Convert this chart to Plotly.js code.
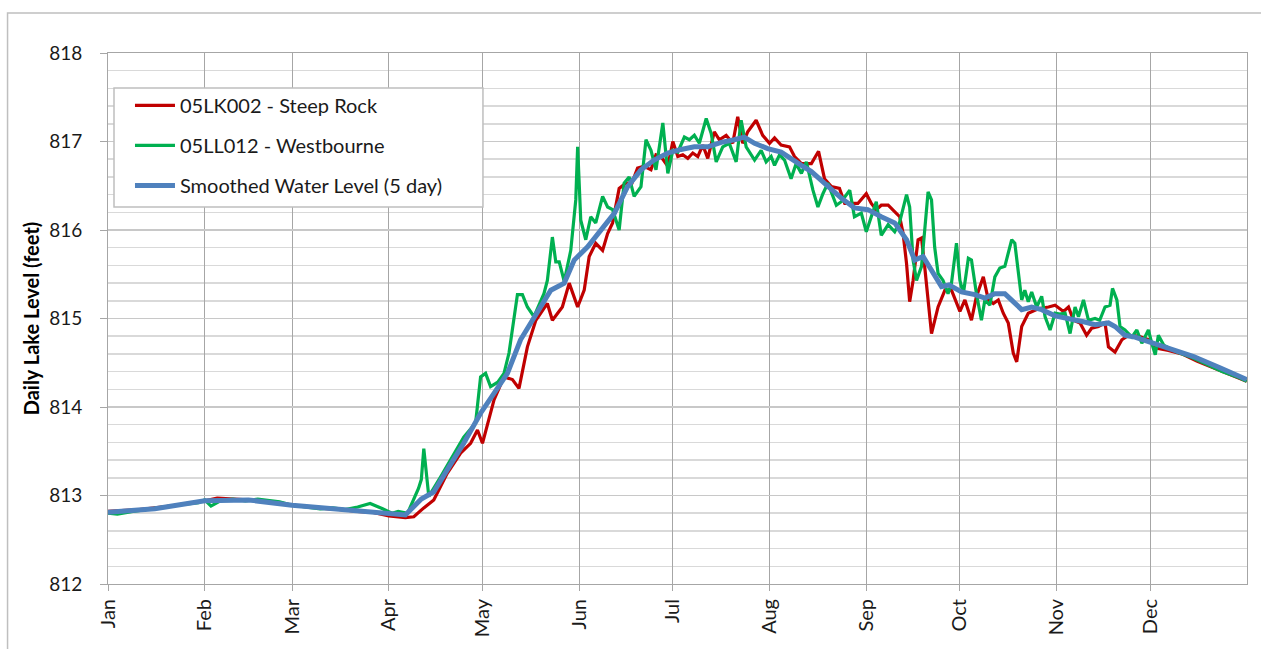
<!DOCTYPE html>
<html>
<head>
<meta charset="utf-8">
<script src="https://cdn.plot.ly/plotly-3.0.1.min.js"></script>
<style>html,body{margin:0;padding:0;background:#fff;}#chart{width:1261px;height:649px;}</style>
</head>
<body>
<div id="chart"></div>
<script>
// Day-of-year (0 = Jan 1) and level in feet
const steepRockDays = [0,5,10,15,20,25,31,35,40,45,50,55,59,65,70,75,80,85,90,95.3,98,101.2,104.4,108.7,113,116.2,118.4,120,123.7,126.9,129.6,131.7,134.4,137.1,140.8,142.4,145.6,147.8,150.5,152.6,154.2,156.3,158.5,160.1,161.7,163.8,166,167.9,169.7,171.8,174,175.6,177.2,179.4,181,182.6,184.2,185.8,187.4,189,190.6,192.2,194.3,195.9,198.1,200.2,201.8,203.4,205,207.7,209.8,212,213.6,215.7,218.4,220,222.2,225.4,227.7,229.6,231.8,234.4,236.1,238.2,240.3,243,244.6,246.2,247.8,250,252.1,253.7,254.8,255.9,256.9,258,259.6,260.7,261.7,262.8,263.9,266,268.2,270.3,273,274.6,276.7,278.3,280.5,282.1,283.7,285.3,286.9,288.5,290.1,291.2,292.8,294.9,298.1,301.4,303.5,306.2,307.8,309.4,311.5,313.6,315.2,317.4,319.5,320.6,322.7,324.9,327,330.2,333.4,336.6,339.8,344.1,348.9,353.8,358.6,364.9];
const steepRockLevels = [812.82,812.83,812.84,812.86,812.88,812.91,812.94,812.97,812.96,812.95,812.94,812.92,812.89,812.87,812.85,812.84,812.82,812.81,812.77,812.75,812.76,812.86,812.95,813.25,813.48,813.59,813.74,813.59,814.08,814.34,814.31,814.21,814.68,814.98,815.17,814.98,815.13,815.40,815.13,815.32,815.70,815.85,815.77,815.96,816.08,816.47,816.53,816.53,816.70,816.72,816.68,816.85,816.83,816.72,817.00,816.83,816.85,816.81,816.87,816.83,816.96,816.81,817.11,817.02,817.07,816.98,817.28,816.98,817.11,817.24,817.07,816.98,817.04,816.96,816.94,816.83,816.75,816.75,816.89,816.58,816.49,816.47,816.30,816.30,816.30,816.41,816.30,816.23,816.28,816.28,816.21,816.15,815.96,815.62,815.19,815.43,815.89,815.91,815.59,815.17,814.83,815.13,815.32,815.32,815.08,815.21,814.98,815.25,815.47,815.21,815.17,815.21,815.06,814.95,814.61,814.51,814.91,815.06,815.11,815.13,815.15,815.08,815.13,814.98,814.95,814.81,814.89,814.91,814.95,814.68,814.62,814.76,814.81,814.80,814.76,814.66,814.64,814.60,814.52,814.45,814.38,814.29];

const westbourneDays = [0,3,8,14,19,24,29,31,33,36,40,44,48,51,55,59,64,68,72,76,80,84,88,91,93,96,99.5,100.4,101.2,102.8,106.6,110.9,114,117.8,119.4,121,122.6,124.9,126.9,128.5,131.2,132.8,134.4,136.5,139.7,140.8,142.4,143.5,144.6,146.2,148.3,149.9,150.5,151.5,153.1,154.7,156.3,158.5,160.1,161.7,163.8,165.4,167,168.6,170.8,172.4,174,175.6,177.8,179.4,181,182.6,184.7,186.3,187.9,189.5,191.7,193.3,194.9,197,199.1,201.3,202.9,204.5,207.2,209.3,210.9,212.5,213.6,215.2,216.8,218.9,220.5,222.2,223.8,225.9,227.5,229.1,230.7,233.4,235,237.7,239.2,241.4,243,244.6,246.2,247.8,250,252.1,253.7,255.9,256.9,258,259.1,260.7,262.8,263.9,264.9,266,267.6,269.2,270.3,271.9,273,274.1,275.7,276.7,278.3,279.9,281,282.6,284.2,285.8,287.4,289.6,290.6,292.8,293.8,294.9,296,297.6,299.2,300.3,301.9,303.5,305,306.7,308.3,309.9,311,312.6,314.2,316.3,317.8,319.5,321.1,321.9,323.3,324.3,325.9,328.1,329.7,331.3,333.4,334.5,335.6,336.6,338.3,342.5,347.3,352.2,357,361.8,364.9];
const westbourneLevels = [812.80,812.79,812.82,812.85,812.88,812.90,812.92,812.95,812.88,812.94,812.96,812.94,812.96,812.95,812.93,812.89,812.87,812.85,812.86,812.84,812.87,812.91,812.85,812.80,812.82,812.80,813.08,813.18,813.53,812.99,813.21,813.48,813.66,813.82,814.34,814.38,814.23,814.28,814.38,814.61,815.27,815.27,815.13,815.02,815.28,815.43,815.92,815.64,815.64,815.42,815.77,816.34,816.94,816.11,815.89,816.15,816.08,816.38,816.26,816.23,816.00,816.53,816.60,816.38,816.49,817.02,816.90,816.68,817.21,816.64,816.90,816.88,817.05,817.02,817.07,816.98,817.26,817.09,816.77,816.94,816.98,816.77,817.24,816.94,816.79,816.90,816.77,816.83,816.73,816.85,816.79,816.58,816.75,816.64,816.77,816.45,816.26,816.41,816.53,816.28,816.32,816.45,816.15,816.19,815.98,816.15,816.32,815.94,816.06,815.98,816.09,816.40,816.26,815.66,815.43,815.59,816.43,816.34,815.81,815.51,815.43,815.28,815.40,815.85,815.43,815.28,815.68,815.66,815.28,814.98,815.21,815.15,815.47,815.57,815.59,815.89,815.85,815.21,815.32,815.19,815.30,815.13,815.25,815.02,814.87,815.06,815.05,815.06,814.83,815.13,815.02,815.21,814.98,815.00,814.98,815.13,815.15,815.34,815.21,814.91,814.87,814.79,814.87,814.72,814.87,814.72,814.59,814.81,814.70,814.62,814.56,814.48,814.40,814.34,814.29];

const smoothedDays = [0,15,31,45,59,75,90,95.3,100.4,104.4,108.7,114,119.4,123.7,128,132.2,137.6,141.9,146.2,149.4,153.7,158,162.3,166.5,170.8,175,179.4,183.6,187.9,192.2,196.5,200.7,203.9,207.2,211.4,215.7,220,222.2,225.4,230.7,235,239.2,243.5,247.8,252.1,255.9,258.5,261.2,263.9,267.1,269.5,273.5,277.8,281,284.2,287.4,290.1,292.8,296,299.2,303.5,308.3,313,316.3,320.6,322.7,325.9,329.1,333.4,339.4,347.9,356.5,364.9];
const smoothedLevels = [812.81,812.85,812.94,812.95,812.89,812.84,812.79,812.78,812.96,813.04,813.29,813.59,813.93,814.15,814.38,814.76,815.06,815.32,815.40,815.66,815.81,816.00,816.19,816.49,816.68,816.79,816.87,816.91,816.94,816.94,816.99,817.02,817.05,816.98,816.92,816.88,816.79,816.73,816.66,816.49,816.36,816.25,816.23,816.15,816.08,815.89,815.66,815.70,815.55,815.36,815.38,815.30,815.27,815.23,815.28,815.28,815.19,815.10,815.13,815.10,815.03,815.00,814.96,814.93,814.95,814.91,814.81,814.79,814.74,814.68,814.57,814.44,814.31];

const seriesNames = ['05LK002 - Steep Rock', '05LL012 - Westbourne', 'Smoothed Water Level (5 day)'];
const monthTicks = ['2011-01-01','2011-02-01','2011-03-01','2011-04-01','2011-05-01','2011-06-01','2011-07-01','2011-08-01','2011-09-01','2011-10-01','2011-11-01','2011-12-01'];
const monthLabels = ['Jan','Feb','Mar','Apr','May','Jun','Jul','Aug','Sep','Oct','Nov','Dec'];
const yAxisTitle = 'Daily Lake Level (feet)';
const yearStart = '2011-01-01';
const yearEnd = '2012-01-01';

function toDate(d) {
  const base = Date.UTC(2011, 0, 1);
  return new Date(base + d * 86400000).toISOString().replace('T', ' ').replace('Z', '');
}

const FONT = 'Lato, "Open Sans", "DejaVu Sans", sans-serif';

const traces = [
  {x: steepRockDays.map(toDate), y: steepRockLevels, name: seriesNames[0], legendgroup: 'a',
   type: 'scatter', mode: 'lines', line: {color: '#C00000', width: 3.2}},
  {x: westbourneDays.map(toDate), y: westbourneLevels, name: seriesNames[1], legendgroup: 'b',
   type: 'scatter', mode: 'lines', line: {color: '#00B050', width: 3.2}},
  {x: smoothedDays.map(toDate), y: smoothedLevels, name: seriesNames[2], legendgroup: 'c',
   type: 'scatter', mode: 'lines', line: {color: '#4F81BD', width: 5}}
];

const layout = {
  width: 1261, height: 649,
  margin: {l: 108, r: 14, t: 53, b: 65},
  paper_bgcolor: '#ffffff', plot_bgcolor: '#ffffff',
  font: {family: FONT, size: 19, color: '#1a1a1a'},
  showlegend: true,
  legend: {x: 0.0193, y: 0.938, xanchor: 'left', yanchor: 'top',
    bgcolor: 'rgba(0,0,0,0)', borderwidth: 0, itemwidth: 40,
    font: {family: FONT, size: 20, color: '#1a1a1a'}, tracegroupgap: 11, traceorder: 'grouped'},
  xaxis: {type: 'date', range: [yearStart, yearEnd], tickmode: 'array', tickvals: monthTicks, ticktext: monthLabels,
    tickangle: -90, ticks: 'outside', ticklen: 6, tickcolor: '#a6a6a6',
    showgrid: true, gridcolor: '#a6a6a6', gridwidth: 1, showline: true, linecolor: '#a6a6a6',
    mirror: true, zeroline: false, tickfont: {family: FONT, size: 20}},
  yaxis: {range: [812, 818], dtick: 1, tick0: 812, ticks: 'outside', ticklen: 7, tickcolor: '#a6a6a6',
    showgrid: true, gridcolor: '#c8c8c8', gridwidth: 1.5, showline: true, linecolor: '#a6a6a6',
    mirror: true, zeroline: false, ticklabelstandoff: 14, tickfont: {family: FONT, size: 19},
    minor: {dtick: 0.2, showgrid: true, gridcolor: '#d9d9d9', gridwidth: 1.5},
    title: {text: yAxisTitle, standoff: 4, font: {family: FONT, size: 20, weight: 'bold', color: '#000'}}},
  shapes: [
    {type: 'rect', xref: 'paper', yref: 'paper', x0: -0.0882, x1: 1.2, y0: -0.4, y1: 1.0753,
     line: {color: '#bfbfbf', width: 1.5}, layer: 'below'},
    {type: 'rect', xref: 'paper', yref: 'paper', x0: 0.00527, x1: 0.3292, y0: 0.710, y1: 0.934,
     fillcolor: '#ffffff', line: {color: '#bfbfbf', width: 1.5}, layer: 'above'}
  ]
};

Plotly.newPlot('chart', traces, layout, {displayModeBar: false, staticPlot: true});
</script>
</body>
</html>
